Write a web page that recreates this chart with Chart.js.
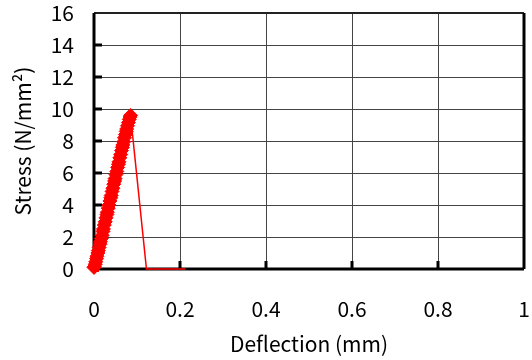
<!DOCTYPE html>
<html>
<head>
<meta charset="utf-8">
<script src="https://cdn.jsdelivr.net/npm/chart.js@4"></script>
<style>
  html, body { margin: 0; padding: 0; background: #fff; }
  canvas { display: block; }
</style>
</head>
<body>
<canvas id="chart" width="532" height="360"></canvas>
<script>
// loading branch (dense markers) up to peak
var loadDeflection = [0, 0.001, 0.003, 0.004, 0.006, 0.007, 0.009, 0.010, 0.012, 0.014, 0.015, 0.017, 0.019, 0.021, 0.022, 0.024, 0.026, 0.028, 0.030, 0.031, 0.033, 0.035, 0.037, 0.039, 0.040, 0.042, 0.044, 0.046, 0.048, 0.049, 0.051, 0.053, 0.055, 0.057, 0.058, 0.060, 0.062, 0.064, 0.066, 0.067, 0.069, 0.071, 0.073, 0.075, 0.076, 0.078, 0.080, 0.082, 0.084, 0.085];
var loadStress = [0.1, 0.15, 0.3, 0.45, 0.65, 0.8, 1.0, 1.15, 1.35, 1.55, 1.7, 1.9, 2.1, 2.35, 2.5, 2.75, 2.95, 3.2, 3.4, 3.55, 3.8, 4.0, 4.25, 4.45, 4.6, 4.85, 5.05, 5.3, 5.5, 5.65, 5.9, 6.1, 6.35, 6.55, 6.7, 6.95, 7.15, 7.4, 7.6, 7.75, 7.95, 8.2, 8.4, 8.6, 8.75, 8.95, 9.15, 9.35, 9.5, 9.6];
// after failure
var failDeflection = [0.085, 0.122, 0.212];
var failStress = [9.6, 0, 0];

var xTickLabels = ['0', '0.2', '0.4', '0.6', '0.8', '1'];
var yTickLabels = ['0', '2', '4', '6', '8', '10', '12', '14', '16'];

var FONT = "'Noto Sans CJK JP', 'DejaVu Sans', sans-serif";

function toPoints(xs, ys) {
    return xs.map(function(x, i) { return {x: x, y: ys[i]}; });
}

// axes, inward tick marks and frame, under the data
var frame = {
    id: 'frame',
    beforeDatasetsDraw: function(chart) {
        var ctx = chart.ctx;
        var a = chart.chartArea;
        var xs = chart.scales.x, ys = chart.scales.y;
        ctx.save();
        ctx.strokeStyle = '#000';
        ctx.lineWidth = 3;
        for (var i = 1; i < yTickLabels.length - 1; i++) {
            var py = ys.getPixelForValue(i * 2);
            ctx.beginPath();
            ctx.moveTo(a.left, py);
            ctx.lineTo(a.left + 8, py);
            ctx.stroke();
        }
        for (var j = 1; j < xTickLabels.length - 1; j++) {
            var px = xs.getPixelForValue(j * 0.2);
            ctx.beginPath();
            ctx.moveTo(px, a.bottom);
            ctx.lineTo(px, a.bottom - 8);
            ctx.stroke();
        }
        ctx.strokeStyle = '#222';
        ctx.lineWidth = 2;
        ctx.beginPath();
        ctx.moveTo(a.left, a.top);
        ctx.lineTo(a.right, a.top);
        ctx.stroke();
        ctx.strokeStyle = '#000';
        ctx.lineWidth = 3;
        ctx.beginPath();
        ctx.moveTo(a.right, a.top);
        ctx.lineTo(a.right, a.bottom);
        ctx.stroke();
        ctx.beginPath();
        ctx.moveTo(a.left, a.top);
        ctx.lineTo(a.left, a.bottom);
        ctx.lineTo(a.right, a.bottom);
        ctx.stroke();
        ctx.restore();
    }
};

new Chart(document.getElementById('chart'), {
    type: 'scatter',
    data: {
        datasets: [{
            data: toPoints(failDeflection, failStress),
            showLine: true,
            borderColor: 'red',
            borderWidth: 1.5,
            pointRadius: 0,
            clip: false,
            order: 2
        }, {
            data: toPoints(loadDeflection, loadStress),
            showLine: true,
            borderColor: 'red',
            backgroundColor: 'red',
            borderWidth: 9,
            pointStyle: 'rectRot',
            pointRadius: 7,
            pointBorderWidth: 1,
            clip: false,
            order: 1
        }]
    },
    options: {
        responsive: false,
        animation: false,
        layout: {padding: {top: 13, right: 3, left: 0, bottom: 0}},
        plugins: {legend: {display: false}, tooltip: {enabled: false}},
        scales: {
            x: {
                type: 'linear',
                min: 0,
                max: 1,
                ticks: {
                    stepSize: 0.2,
                    padding: 27,
                    color: '#000',
                    font: {family: FONT, size: 21},
                    maxRotation: 0,
                    callback: function(v, i) { return xTickLabels[i]; }
                },
                grid: {color: '#444', lineWidth: 1, drawTicks: false},
                border: {display: false},
                title: {
                    display: true,
                    text: 'Deflection (mm)',
                    color: '#000',
                    font: {family: FONT, size: 21},
                    padding: {top: 3, bottom: 3}
                },
                afterFit: function(s) {
                    s.height = 91;
                    s.paddingLeft = 0;
                    s.paddingRight = 0;
                }
            },
            y: {
                type: 'linear',
                min: 0,
                max: 16,
                ticks: {
                    stepSize: 2,
                    padding: 20,
                    color: '#000',
                    font: {family: FONT, size: 21},
                    callback: function(v, i) { return yTickLabels[i]; }
                },
                grid: {color: '#444', lineWidth: 1, drawTicks: false},
                border: {display: false},
                title: {
                    display: true,
                    text: 'Stress (N/mm²)',
                    color: '#000',
                    font: {family: FONT, size: 21},
                    padding: {top: 10, bottom: 4}
                },
                afterFit: function(s) {
                    s.width = 94;
                    s.paddingTop = 0;
                    s.paddingBottom = 0;
                }
            }
        }
    },
    plugins: [frame]
});
</script>
</body>
</html>
